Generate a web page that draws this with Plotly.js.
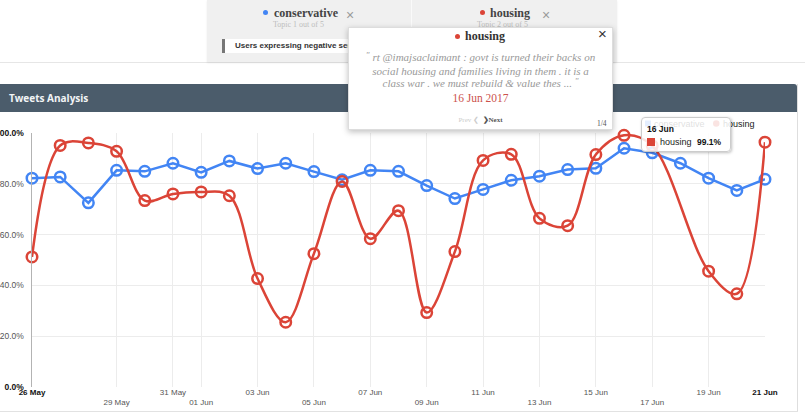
<!DOCTYPE html>
<html><head><meta charset="utf-8">
<script src="https://cdn.plot.ly/plotly-3.0.1.min.js"></script>
<style>
html,body{margin:0;padding:0;width:805px;height:418px;overflow:hidden;background:#fff;font-family:"Liberation Sans",Arial,sans-serif;}
.abs{position:absolute;white-space:nowrap;}
.serif{font-family:"Liberation Serif","Times New Roman",serif;}
.q{font-size:9px;position:relative;top:-3px;}
#chart{position:absolute;left:0;top:0;width:805px;height:418px;}
</style></head><body>
<div id="chart"></div>

<!-- page lines / card -->
<div class="abs" style="left:0;top:62px;width:805px;height:1px;background:#e6e6e6"></div>
<div class="abs" style="left:0;top:84px;width:797px;height:28px;background:#4b5c6b;border-radius:0 3px 0 0"></div>
<div class="abs" style="left:9px;top:84px;height:28px;line-height:28px;font-family:'Open Sans',sans-serif;font-weight:bold;font-size:10px;color:#f2f4f6">Tweets Analysis</div>
<div class="abs" style="left:797px;top:84px;width:1px;height:328px;background:#dedede"></div>
<div class="abs" style="left:0;top:411px;width:798px;height:1px;background:#e2e2e2"></div>

<!-- top topic panel -->
<div class="abs" style="left:207px;top:0;width:410px;height:62px;background:#f0f0f0;box-shadow:0 1px 2px rgba(0,0,0,.08)"></div>
<div class="abs" style="left:411px;top:0;width:1px;height:62px;background:#fafafa"></div>
<div class="abs" style="left:263px;top:10px;width:5px;height:5px;border-radius:50%;background:#4285f4"></div>
<div class="abs serif" style="left:274px;top:6px;line-height:14px;font-size:12px;font-weight:bold;color:#444">conservative</div>
<div class="abs" style="left:346px;top:8px;line-height:15px;font-size:14px;color:#9a9a9a">×</div>
<div class="abs serif" style="left:273px;top:20px;line-height:10px;font-size:8px;color:#bdbdbd">Topic 1 out of 5</div>
<div class="abs" style="left:222px;top:39px;width:172px;height:14px;background:#fff;border-left:3px solid #777;box-sizing:border-box;padding-left:10px;line-height:14px;font-size:8px;font-weight:bold;color:#333;overflow:hidden">Users expressing negative sentiment</div>
<div class="abs" style="left:480px;top:10px;width:5px;height:5px;border-radius:50%;background:#db4437"></div>
<div class="abs serif" style="left:490px;top:6px;line-height:14px;font-size:12px;font-weight:bold;color:#444">housing</div>
<div class="abs" style="left:542px;top:8px;line-height:15px;font-size:14px;color:#9a9a9a">×</div>
<div class="abs serif" style="left:477px;top:20px;line-height:10px;font-size:8px;color:#bdbdbd">Topic 2 out of 5</div>

<!-- popup -->
<div class="abs" style="left:348px;top:27px;width:265px;height:103px;background:#fff;border:1px solid #ddd;box-sizing:border-box;box-shadow:0 2px 6px rgba(0,0,0,.25)">
  <div class="abs" style="left:106px;top:6px;width:5px;height:5px;border-radius:50%;background:#db4437"></div>
  <div class="abs serif" style="left:116px;top:1px;line-height:14px;font-size:12px;font-weight:bold;color:#333">housing</div>
  <div class="abs" style="left:249px;top:-2px;line-height:15px;font-size:15px;color:#333">×</div>
  <div class="abs serif" style="left:0;top:23px;width:263px;text-align:center;line-height:12.5px;font-size:11px;font-style:italic;color:#999"><span class="q">"</span> rt @imajsaclaimant : govt is turned their backs on<br>social housing and families living in them . it is a<br>class war . we must rebuild &amp; value thes ... <span class="q">"</span></div>
  <div class="abs serif" style="left:0;top:63px;width:263px;text-align:center;line-height:14px;font-size:11.5px;color:#cc524c">16 Jun 2017</div>
  <div class="abs serif" style="left:0;top:88px;width:263px;text-align:center;line-height:9px;font-size:7px;color:#ccc">Prev ❮ &nbsp;<span style="color:#555;font-weight:bold">❯Next</span></div>
  <div class="abs serif" style="left:248px;top:91px;line-height:9px;font-size:7.5px;color:#555">1/4</div>
</div>

<!-- tooltip -->
<div class="abs" style="left:641px;top:117px;width:90px;height:35px;background:rgba(255,255,255,0.86);border:1px solid #ccc;box-sizing:border-box;border-radius:4px;box-shadow:1px 1px 3px rgba(0,0,0,.25)">
  <div class="abs" style="left:5px;top:6px;line-height:11px;font-size:8.5px;font-weight:bold;color:#111">16 Jun</div>
  <div class="abs" style="left:5px;top:20px;width:8px;height:8px;background:#db4437"></div>
  <div class="abs" style="left:18px;top:18px;line-height:12px;font-size:9px;color:#222">housing</div>
  <div class="abs" style="left:55px;top:18px;line-height:12px;font-size:8.5px;font-weight:bold;color:#111">99.1%</div>
</div>

<script>
// ---- data ----
const dates = ['2017-05-26','2017-05-27','2017-05-28','2017-05-29','2017-05-30','2017-05-31',
  '2017-06-01','2017-06-02','2017-06-03','2017-06-04','2017-06-05','2017-06-06','2017-06-07',
  '2017-06-08','2017-06-09','2017-06-10','2017-06-11','2017-06-12','2017-06-13','2017-06-14',
  '2017-06-15','2017-06-16','2017-06-17','2017-06-18','2017-06-19','2017-06-20','2017-06-21'];
const conservative = [82.2, 82.7, 72.5, 85.3, 84.9, 88.1, 84.5, 89.0, 86.0, 88.1, 84.8, 81.6, 85.3,
  84.9, 79.3, 74.2, 77.8, 81.4, 83.0, 85.6, 86.1, 94.0, 92.2, 88.1, 82.2, 77.4, 81.8];
const housing = [51.2, 95.1, 96.1, 92.8, 73.4, 76.0, 76.8, 75.3, 42.7, 25.5, 52.5, 80.9, 58.4,
  69.4, 29.3, 53.3, 89.2, 91.6, 66.4, 63.5, 91.5, 99.1, 95.0, null, 45.6, 36.7, 96.4];
const xTickVals = ['2017-05-26','2017-05-29','2017-05-31','2017-06-01','2017-06-03','2017-06-05',
  '2017-06-07','2017-06-09','2017-06-11','2017-06-13','2017-06-15','2017-06-17','2017-06-19','2017-06-21'];
const xTickText = ['<b><span style="color:#111">26 May</span></b>','<br>29 May','31 May','<br>01 Jun','03 Jun','<br>05 Jun',
  '07 Jun','<br>09 Jun','11 Jun','<br>13 Jun','15 Jun','<br>17 Jun','19 Jun','<b><span style="color:#111">21 Jun</span></b>'];
const yTickVals = [0, 20, 40, 60, 80, 100];
const yTickText = ['<b><span style="color:#111">0.0%</span></b>','20.0%','40.0%','60.0%','80.0%','<b><span style="color:#111">100.0%</span></b>'];
const seriesNames = ['conservative','housing'];
const seriesColors = ['#4285f4','#db4437'];

// plot area in page pixels
const L = 32, R = 765, T = 133, B = 387;
const px = v => (v - L) / (R - L);
const py = v => (B - v) / (B - T);

const traces = [
  {x: dates, y: conservative, name: seriesNames[0], type: 'scatter', mode: 'lines+markers',
   line: {color: seriesColors[0], width: 2.5, shape: 'linear'},
   marker: {symbol: 'circle-open', size: 10.5, color: seriesColors[0], line: {width: 2.5}},
   cliponaxis: false},
  {x: dates, y: housing, name: seriesNames[1], type: 'scatter', mode: 'lines+markers', connectgaps: true,
   line: {color: seriesColors[1], width: 2.5, shape: 'spline', smoothing: 1},
   marker: {symbol: 'circle-open', size: 10.5, color: seriesColors[1], line: {width: 2.5}},
   cliponaxis: false}
];

const layout = {
  width: 805, height: 418,
  margin: {l: L, r: 805 - R, t: T, b: 418 - B},
  paper_bgcolor: 'rgba(0,0,0,0)', plot_bgcolor: 'rgba(0,0,0,0)',
  showlegend: false, hovermode: false,
  font: {family: 'Liberation Sans, Arial, sans-serif', size: 8, color: '#555'},
  xaxis: {type: 'date', range: ['2017-05-26', '2017-06-21'], tickmode: 'array',
    tickvals: xTickVals, ticktext: xTickText, showgrid: true, gridcolor: '#ececec', gridwidth: 1,
    zeroline: false, showline: false, ticks: '', ticklabelstandoff: -1, tickfont: {size: 8, color: '#555'}, automargin: false},
  yaxis: {range: [0, 100], tickmode: 'array', tickvals: yTickVals, ticktext: yTickText,
    showgrid: true, gridcolor: '#ececec', zeroline: false, showline: true, linecolor: '#b3b3b3',
    linewidth: 1.5, ticks: '', ticklabelstandoff: 5, tickfont: {size: 8.5, color: '#555'}, automargin: false},
  shapes: [
    {type: 'rect', xref: 'paper', yref: 'paper', x0: px(645), x1: px(651), y0: py(126.5), y1: py(120.5),
     fillcolor: seriesColors[0], line: {width: 0}},
    {type: 'circle', xref: 'paper', yref: 'paper', x0: px(713), x1: px(719.5), y0: py(126.8), y1: py(120.3),
     fillcolor: seriesColors[1], line: {width: 0}}
  ],
  annotations: [
    {xref: 'paper', yref: 'paper', x: px(652), y: py(123.5), xanchor: 'left', yanchor: 'middle',
     text: seriesNames[0], showarrow: false, font: {size: 9, color: '#222'}},
    {xref: 'paper', yref: 'paper', x: px(720.5), y: py(123.5), xanchor: 'left', yanchor: 'middle',
     text: seriesNames[1], showarrow: false, font: {size: 9, color: '#222'}}
  ]
};

Plotly.newPlot('chart', traces, layout, {staticPlot: true, displayModeBar: false});
</script>
</body></html>
